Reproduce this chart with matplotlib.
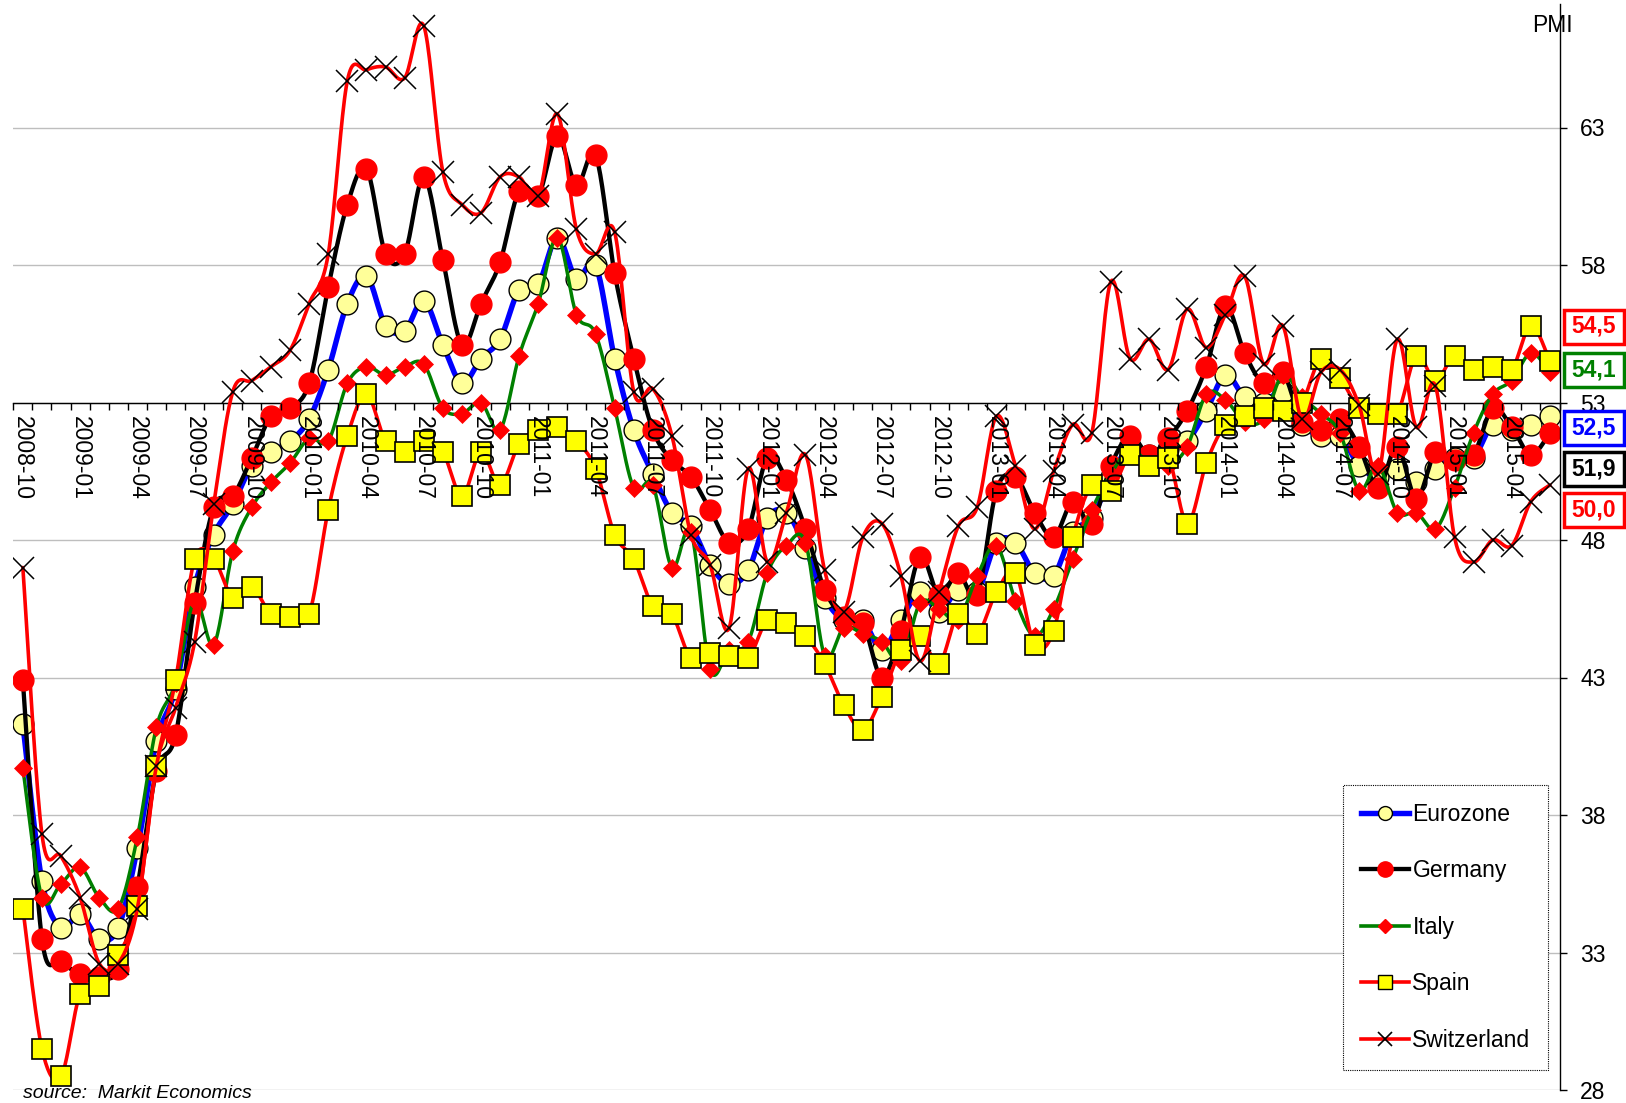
import numpy as np
import pandas as pd
import matplotlib
matplotlib.use("Agg")
import matplotlib.pyplot as plt
from matplotlib.lines import Line2D
from matplotlib.patches import Rectangle

plt.rcParams["font.family"] = ["Liberation Sans", "DejaVu Sans"]

# monthly PMI, 2008-10 .. 2015-06
months = list(pd.period_range("2008-10", "2015-06", freq="M").strftime("%Y-%m"))
tick_labels = months[::3]

eurozone = [41.3, 35.6, 33.9, 34.4, 33.5, 33.9, 36.8, 40.7, 42.6, 46.3,
            48.2, 49.3, 50.7, 51.2, 51.6, 52.4, 54.2, 56.6, 57.6, 55.8,
            55.6, 56.7, 55.1, 53.7, 54.6, 55.3, 57.1, 57.3, 59.0, 57.5,
            58.0, 54.6, 52.0, 50.4, 49.0, 48.5, 47.1, 46.4, 46.9, 48.8,
            49.0, 47.7, 45.9, 45.1, 45.1, 44.0, 45.1, 46.1, 45.4, 46.2,
            46.1, 47.9, 47.9, 46.8, 46.7, 48.3, 48.8, 50.3, 51.4, 51.1,
            51.3, 51.6, 52.7, 54.0, 53.2, 53.0, 53.4, 52.2, 51.8, 51.8,
            50.7, 50.3, 50.6, 50.1, 50.6, 51.0, 51.0, 52.2, 52.0, 52.2, 52.5]

germany = [42.9, 33.5, 32.7, 32.2, 32.1, 32.4, 35.4, 39.6, 40.9, 45.7,
           49.2, 49.6, 51.0, 52.5, 52.8, 53.7, 57.2, 60.2, 61.5, 58.4,
           58.4, 61.2, 58.2, 55.1, 56.6, 58.1, 60.7, 60.5, 62.7, 60.9,
           62.0, 57.7, 54.6, 52.0, 50.9, 50.3, 49.1, 47.9, 48.4, 51.0,
           50.2, 48.4, 46.2, 45.2, 45.0, 43.0, 44.7, 47.4, 46.0, 46.8,
           46.0, 49.8, 50.3, 49.0, 48.1, 49.4, 48.6, 50.7, 51.8, 51.1,
           51.7, 52.7, 54.3, 56.5, 54.8, 53.7, 54.1, 52.3, 52.0, 52.4,
           51.4, 49.9, 51.4, 49.5, 51.2, 50.9, 51.1, 52.8, 52.1, 51.1, 51.9]

italy = [39.7, 35.0, 35.5, 36.1, 35.0, 34.6, 37.2, 41.2, 42.8, 45.8,
         44.2, 47.6, 49.2, 50.1, 50.8, 51.7, 51.6, 53.7, 54.3, 54.0,
         54.3, 54.4, 52.8, 52.6, 53.0, 52.0, 54.7, 56.6, 59.0, 56.2,
         55.5, 52.8, 49.9, 50.0, 47.0, 48.3, 43.3, 44.0, 44.3, 46.8,
         47.8, 47.9, 43.8, 44.8, 44.6, 44.3, 43.6, 45.7, 45.5, 45.1,
         46.7, 47.8, 45.8, 44.5, 45.5, 47.3, 49.1, 50.4, 51.3, 50.8,
         50.7, 51.4, 53.3, 53.1, 52.3, 52.4, 54.0, 53.2, 52.6, 51.9,
         49.8, 50.7, 49.0, 49.0, 48.4, 49.9, 51.9, 53.3, 53.8, 54.8, 54.1]

spain = [34.6, 29.5, 28.5, 31.5, 31.8, 32.9, 34.7, 39.8, 42.9, 47.3,
         47.3, 45.9, 46.3, 45.3, 45.2, 45.3, 49.1, 51.8, 53.3, 51.6,
         51.2, 51.6, 51.2, 49.6, 51.2, 50.0, 51.5, 52.0, 52.1, 51.6,
         50.6, 48.2, 47.3, 45.6, 45.3, 43.7, 43.9, 43.8, 43.7, 45.1,
         45.0, 44.5, 43.5, 42.0, 41.1, 42.3, 44.0, 44.5, 43.5, 45.3,
         44.6, 46.1, 46.8, 44.2, 44.7, 48.1, 50.0, 49.8, 51.1, 50.7,
         51.0, 48.6, 50.8, 52.2, 52.5, 52.8, 52.7, 53.0, 54.6, 53.9,
         52.8, 52.6, 52.6, 54.7, 53.8, 54.7, 54.2, 54.3, 54.2, 55.8, 54.5]

switzerland = [47.0, 37.3, 36.5, 35.0, 32.6, 32.6, 34.6, 39.8, 41.9, 44.3,
               49.3, 53.4, 53.8, 54.3, 54.9, 56.6, 58.4, 64.7, 65.1, 65.2,
               64.8, 66.7, 61.4, 60.2, 59.9, 61.2, 61.2, 60.5, 63.5, 59.3,
               58.4, 59.2, 53.4, 53.5, 51.8, 48.2, 47.1, 44.8, 50.6, 47.2,
               49.0, 51.1, 46.9, 45.4, 48.1, 48.6, 46.7, 43.6, 46.1, 48.5,
               49.2, 52.5, 50.7, 48.4, 50.5, 52.2, 51.9, 57.4, 54.6, 55.3,
               54.2, 56.4, 55.0, 56.2, 57.6, 54.4, 55.8, 52.4, 54.1, 54.2,
               52.9, 50.4, 55.3, 52.1, 53.6, 48.1, 47.2, 48.0, 47.8, 49.4, 50.0]

BLUE = "#0000FF"
GREEN = "#008000"
RED = "#FF0000"
YELLOW = "#FFFF00"
PALE = "#FFFF99"

# name, values, line colour, line width, marker style
series = [
    ("Eurozone", eurozone, BLUE, 3.9, dict(marker="o", ms=15, mfc=PALE, mec="black", mew=1.0)),
    ("Germany", germany, "black", 3.1, dict(marker="o", ms=15, mfc=RED, mec=RED, mew=1.0)),
    ("Italy", italy, GREEN, 2.5, dict(marker="D", ms=9.5, mfc=RED, mec=RED, mew=0.5)),
    ("Spain", spain, RED, 2.6, dict(marker="s", ms=14, mfc=YELLOW, mec="black", mew=1.2)),
    ("Switzerland", switzerland, RED, 2.6, dict(marker="x", ms=16, mec="black", mew=1.1)),
]


def smooth(values, steps=20):
    """Excel-like smoothed line (cubic bezier through every point)"""
    y = np.asarray(values, dtype=float)
    x = np.arange(len(y), dtype=float)
    px = np.concatenate([[x[0]], x, [x[-1]]])
    py = np.concatenate([[y[0]], y, [y[-1]]])
    n = len(y) - 1
    t = np.linspace(0, 1, steps, endpoint=False)[None, :]
    out = []
    for p in (px, py):
        p0, p1, p2, p3 = p[0:n, None], p[1:n + 1, None], p[2:n + 2, None], p[3:n + 3, None]
        c1 = p1 + (p2 - p0) / 6.0
        c2 = p2 - (p3 - p1) / 6.0
        b = ((1 - t) ** 3 * p1 + 3 * (1 - t) ** 2 * t * c1
             + 3 * (1 - t) * t ** 2 * c2 + t ** 3 * p2)
        out.append(np.append(b.ravel(), p[n + 1]))
    return out[0], out[1]


W, H = 1626, 1103
fig = plt.figure(figsize=(W / 100, H / 100), dpi=100)

# axes placed in pixels: x from -0.5 to 80.5, y 28 -> 67.5 (27.5 px per point)
left, right = 13.3, 1559.5
y_bottom, y_top = 1090.0, 1090.0 - 39.5 * 27.5
ax = fig.add_axes([left / W, 1 - y_bottom / H, (right - left) / W, (y_bottom - y_top) / H])
ax.set_xlim(-0.5, 80.5)
ax.set_ylim(28, 67.5)

# grid lines behind the data
for v in range(28, 64, 5):
    ax.axhline(v, color="#BEBEBE", lw=1.0, zorder=0)

x = np.arange(len(months))
z = 2.0
for name, vals, col, lw, mk in series:
    sx, sy = smooth(vals)
    ax.plot(sx, sy, color=col, lw=lw, solid_capstyle="round", zorder=z)
    ax.plot(x, vals, ls="none", zorder=z + 0.01, **mk)
    z += 0.02

# axes / ticks
ax.set_axisbelow(False)
for s in ("left", "top"):
    ax.spines[s].set_visible(False)
ax.spines["bottom"].set_position(("data", 53))
ax.spines["bottom"].set_linewidth(1.0)
ax.spines["right"].set_linewidth(1.0)
ax.spines["bottom"].set_zorder(1.5)

ax.set_xticks(x[::3])
ax.set_xticklabels(tick_labels)
ax.set_xticks(np.arange(-0.5, 81, 1), minor=True)
ax.tick_params(axis="x", which="major", length=0, pad=10, labelsize=16.5, labelrotation=-90)
ax.tick_params(axis="x", which="minor", length=5, width=1, direction="out")

ax.yaxis.tick_right()
ax.set_yticks(range(28, 64, 5))
ax.tick_params(axis="y", length=5, width=1, direction="out", pad=10, labelsize=16.5)

fig.text(1552 / W, 1 - 26 / H, "PMI", ha="center", va="center", fontsize=16.5)

# latest values in coloured boxes (box centres in pixels from the top)
box_order = [(spain, RED), (italy, GREEN), (eurozone, BLUE), (germany, "black"), (switzerland, RED)]
box_y = [326.5, 370, 428, 469, 510]
box_w, box_h = 60, 34
for (vals, col), yy in zip(box_order, box_y):
    txt = f"{vals[-1]:.1f}".replace(".", ",")
    rect = Rectangle(((1593.5 - box_w / 2) / W, 1 - (yy + box_h / 2) / H), box_w / W, box_h / H,
                     transform=fig.transFigure, fc="white", ec=col, lw=2.5, zorder=3)
    fig.add_artist(rect)
    fig.text(1593.5 / W, 1 - yy / H, txt, ha="center", va="center", fontsize=16.5,
             fontweight="bold", color=col, zorder=4)

# legend
handles = [
    Line2D([0], [0], color=BLUE, lw=3.9, marker="o", ms=10, mfc=PALE, mec="black", mew=1),
    Line2D([0], [0], color="black", lw=3.1, marker="o", ms=11, mfc=RED, mec=RED),
    Line2D([0], [0], color=GREEN, lw=2.6, marker="D", ms=7, mfc=RED, mec=RED),
    Line2D([0], [0], color=RED, lw=2.6, marker="s", ms=10, mfc=YELLOW, mec="black", mew=1),
    Line2D([0], [0], color=RED, lw=2.6, marker="x", ms=10, mec="black", mew=1.2),
]
leg = ax.legend(handles, [s[0] for s in series], loc="upper left",
                bbox_to_anchor=(1343 / W, 1 - 785 / H), bbox_transform=fig.transFigure,
                fancybox=False, borderaxespad=0, fontsize=16.5, handlelength=2.1,
                handletextpad=0.15, labelspacing=1.46, borderpad=0.78, framealpha=1)
leg.get_frame().set_edgecolor("black")
leg.get_frame().set_linestyle((0, (1, 1)))
leg.get_frame().set_linewidth(0.8)
leg.set_zorder(5)

fig.text(23 / W, 1 - 1094 / H, "source:  Markit Economics", ha="left", va="center",
         fontsize=14, style="italic")

fig.savefig("out.png", dpi=100)
